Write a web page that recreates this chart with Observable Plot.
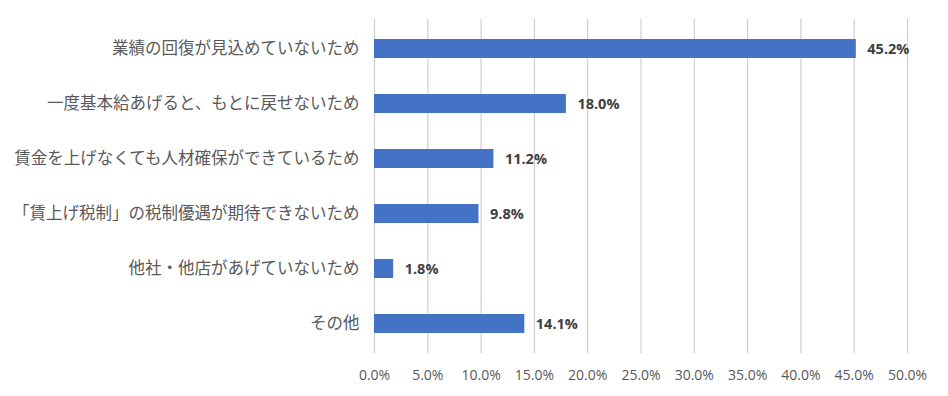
<!DOCTYPE html>
<html>
<head>
<meta charset="utf-8">
<script src="https://cdn.jsdelivr.net/npm/d3@7"></script>
<script src="https://cdn.jsdelivr.net/npm/@observablehq/plot@0.6"></script>
<style>
  html, body { margin: 0; padding: 0; background: #fff; }
  #chart { width: 948px; height: 396px; }
</style>
</head>
<body>
<div id="chart"></div>
<script>
const categories = [
  "業績の回復が見込めていないため",
  "一度基本給あげると、もとに戻せないため",
  "賃金を上げなくても人材確保ができているため",
  "「賃上げ税制」の税制優遇が期待できないため",
  "他社・他店があげていないため",
  "その他"
];
const values = [45.2, 18.0, 11.2, 9.8, 1.8, 14.1];
const xTicks = [0, 5, 10, 15, 20, 25, 30, 35, 40, 45, 50];

const data = categories.map((c, i) => ({category: c, value: values[i]}));

const chart = Plot.plot({
  width: 948,
  height: 396,
  marginTop: 19,
  marginBottom: 43,
  marginLeft: 374,
  marginRight: 41,
  style: {fontFamily: "'Open Sans', 'Noto Sans CJK JP', sans-serif", background: "#fff"},
  x: {domain: [0, 50], ticks: xTicks, tickFormat: d => d.toFixed(1) + "%", label: null},
  y: {domain: categories, label: null, paddingInner: 0.66, paddingOuter: 0.33},
  marks: [
    Plot.gridX(xTicks, {stroke: "#d0d0d0", strokeOpacity: 1, strokeWidth: 1.2}),
    Plot.axisX({ticks: xTicks, tickFormat: d => d.toFixed(1) + "%", tickSize: 0, tickPadding: 17, fontSize: 14, color: "#595959", label: null}),
    Plot.axisY({tickSize: 0, tickPadding: 15, fontSize: 16.5, color: "#595959", label: null, fontFamily: "'Noto Sans CJK JP', sans-serif"}),
    Plot.barX(data, {x: "value", y: "category", fill: "#4472C4"}),
    Plot.text(data, {x: "value", y: "category", text: d => d.value.toFixed(1) + "%", textAnchor: "start", dx: 11, fontSize: 14.5, fontWeight: "bold", fill: "#404040"})
  ]
});
document.getElementById("chart").appendChild(chart);
</script>
</body>
</html>
